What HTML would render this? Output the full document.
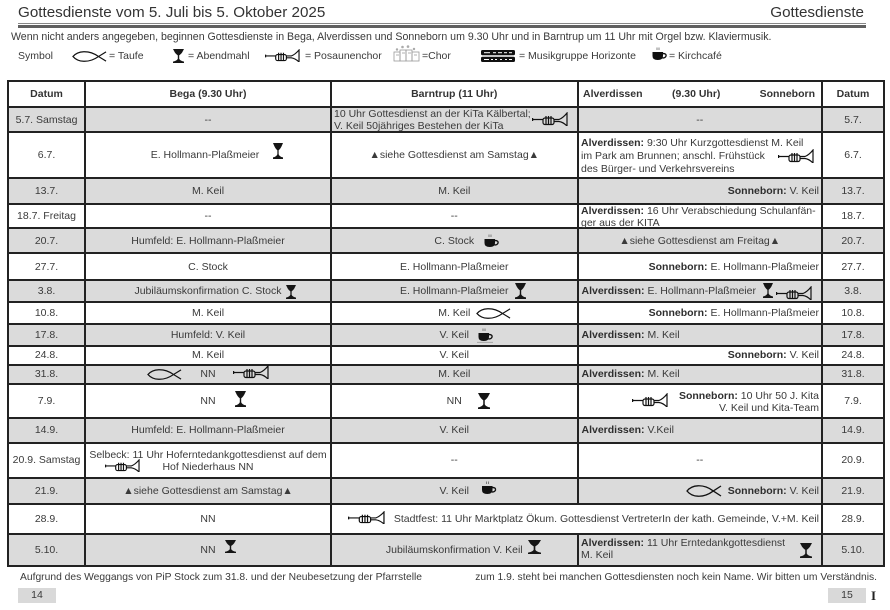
<!DOCTYPE html>
<html><head><meta charset="utf-8">
<style>
html,body{margin:0;padding:0;background:#fff}
body{width:890px;height:610px;position:relative;overflow:hidden;font-family:"Liberation Sans",Arial,sans-serif}
.t{position:absolute;white-space:nowrap;font-size:10.5px;color:#3a3a3a;line-height:13px}
.c{position:absolute;display:flex;align-items:center;justify-content:center;white-space:nowrap;font-size:10.5px;color:#3a3a3a;box-sizing:border-box}
.l{justify-content:flex-start;padding-left:3px}
.r{justify-content:flex-end;padding-right:2px}
.k1{left:8.5px;width:76px}
.k2{left:86px;width:244px}
.k3{left:332px;width:244.5px}
.k4{left:578.5px;width:242.5px}
.k5{left:823px;width:60px}
.bg{position:absolute;left:7.5px;width:876.5px;background:#dbdbdb}
.h{position:absolute;left:6.5px;width:878.5px;height:2px;background:#222}
.v{position:absolute;width:2px;background:#222}
.i{position:absolute}
b{color:#2e2e2e}
.hd{font-weight:bold;color:#333}
</style></head><body>

<!-- Title -->
<div class="t" style="left:18px;top:4px;font-size:15.2px;line-height:18px;color:#333">Gottesdienste vom 5. Juli bis 5. Oktober 2025</div>
<div class="t" style="right:26px;top:4px;font-size:15.2px;line-height:18px;color:#333">Gottesdienste</div>
<div style="position:absolute;left:18px;width:848px;top:23px;height:1px;background:#888"></div>
<div style="position:absolute;left:18px;width:848px;top:24.5px;height:3px;background:#606060"></div>

<div class="t" style="left:11px;top:30.5px;font-size:10.6px">Wenn nicht anders angegeben, beginnen Gottesdienste in Bega, Alverdissen und Sonneborn um 9.30 Uhr und in Barntrup um 11 Uhr mit Orgel bzw. Klaviermusik.</div>

<!-- Legend -->
<div class="t" style="left:18px;top:49.5px">Symbol</div>
<svg class="i" style="left:72px;top:51px" width="35" height="11" viewBox="0 0 36 12" preserveAspectRatio="none"><path d="M35 1L27 6.2Q20 11.5 12 11.2Q5 11 1 6Q5 1 12 0.8Q20 0.5 27 5.8L35 11" fill="none" stroke="#111" stroke-width="1.3"/></svg>
<div class="t" style="left:109px;top:49.5px">= Taufe</div>
<svg class="i" style="left:173px;top:49px" width="11" height="14" viewBox="0 0 11 15" preserveAspectRatio="none"><path d="M0 0H11L10 2C9 4.5 7.3 6 6.2 6.8V10.5C6.8 12 8.5 13 11 13.5V15H0V13.5C2.5 13 4.2 12 4.8 10.5V6.8C3.7 6 2 4.5 1 2Z" fill="#151515"/></svg>
<div class="t" style="left:188px;top:49.5px">= Abendmahl</div>
<svg class="i" style="left:265px;top:49px" width="35" height="13" viewBox="0 0 36 14" preserveAspectRatio="none"><g fill="none" stroke="#111" stroke-width="1.2"><path d="M0.6 6V9M0.6 7.5H11"/><rect x="11" y="6" width="11" height="6.5" rx="2"/><path d="M14 4V12.5M16.5 4V12.5M19 4V12.5"/><path d="M22 7.5H27Q31 6 35 1V14Q31 10 27 9.5H22"/></g></svg>
<div class="t" style="left:305px;top:49.5px">= Posaunenchor</div>
<svg class="i" style="left:393px;top:45px" width="28" height="18" viewBox="0 0 28 18"><g fill="none" stroke="#999" stroke-width="0.8"><rect x="1" y="7" width="6" height="9"/><rect x="7" y="5" width="6" height="11"/><rect x="13" y="5" width="6" height="11"/><rect x="19" y="7" width="7" height="9"/><path d="M3 10H6M9 8H12M15 8H18M21 10H24"/></g><g fill="#aaa"><circle cx="4" cy="4.5" r="1.2"/><circle cx="9.5" cy="2" r="1.3"/><circle cx="15" cy="1.6" r="1.3"/><circle cx="21" cy="4" r="1.2"/></g></svg>
<div class="t" style="left:422px;top:49.5px">=Chor</div>
<svg class="i" style="left:481px;top:50px" width="34" height="12" viewBox="0 0 34 12"><rect x="0" y="0" width="34" height="5.3" rx="1.5" fill="#111"/><rect x="0" y="6.7" width="34" height="5.3" rx="1.5" fill="#111"/><g fill="#fff"><rect x="3" y="2.2" width="6" height="1"/><rect x="12" y="2.2" width="3" height="1"/><rect x="17" y="2.2" width="4" height="1"/><rect x="23" y="2.2" width="3" height="1"/><rect x="28" y="2.2" width="3" height="1"/><rect x="3" y="9" width="5" height="1"/><rect x="10" y="9" width="2" height="1"/><rect x="14" y="9" width="2" height="1"/><rect x="19" y="9" width="2" height="1"/><rect x="24" y="9" width="2" height="1"/><rect x="28" y="9" width="3" height="1"/></g></svg>
<div class="t" style="left:519px;top:49.5px">= Musikgruppe Horizonte</div>
<svg class="i" style="left:651px;top:47px" width="16" height="15" viewBox="0 0 16 15"><path d="M6 0.5V3M8 0.5V3" stroke="#666" stroke-width="0.8"/><path d="M1.5 5H12V9Q12 13 6.8 13Q1.5 13 1.5 9Z" fill="#111"/><path d="M12 6.5Q15.5 6.5 15 9Q14.5 11 11.5 11" fill="none" stroke="#111" stroke-width="1.4"/></svg>
<div class="t" style="left:669px;top:49.5px">= Kirchcafé</div>

<!-- Row backgrounds -->
<div class="bg" style="top:107px;height:25px"></div>
<div class="bg" style="top:178px;height:26px"></div>
<div class="bg" style="top:228px;height:25px"></div>
<div class="bg" style="top:280px;height:21.5px"></div>
<div class="bg" style="top:324px;height:21.5px"></div>
<div class="bg" style="top:364.5px;height:19.5px"></div>
<div class="bg" style="top:417.5px;height:25.5px"></div>
<div class="bg" style="top:477.5px;height:26.5px"></div>
<div class="bg" style="top:533.5px;height:32.5px"></div>

<!-- Horizontal lines -->
<div class="h" style="top:80px"></div>
<div class="h" style="top:106px"></div>
<div class="h" style="top:131px"></div>
<div class="h" style="top:177px"></div>
<div class="h" style="top:203px"></div>
<div class="h" style="top:227px"></div>
<div class="h" style="top:252px"></div>
<div class="h" style="top:279px"></div>
<div class="h" style="top:300.5px"></div>
<div class="h" style="top:323px"></div>
<div class="h" style="top:344.5px"></div>
<div class="h" style="top:363.5px"></div>
<div class="h" style="top:383px"></div>
<div class="h" style="top:416.5px"></div>
<div class="h" style="top:442px"></div>
<div class="h" style="top:476.5px"></div>
<div class="h" style="top:503px"></div>
<div class="h" style="top:532.5px"></div>
<div class="h" style="top:565px"></div>

<!-- Vertical lines -->
<div class="v" style="left:6.5px;top:80px;height:487px"></div>
<div class="v" style="left:84px;top:80px;height:487px"></div>
<div class="v" style="left:330px;top:80px;height:487px"></div>
<div class="v" style="left:576.5px;top:80px;height:424px"></div>
<div class="v" style="left:576.5px;top:532.5px;height:34px"></div>
<div class="v" style="left:821px;top:80px;height:487px"></div>
<div class="v" style="left:883px;top:80px;height:487px"></div>

<!-- Header -->
<div class="c k1 hd" style="top:82px;height:24px">Datum</div>
<div class="c k2 hd" style="top:82px;height:24px">Bega (9.30 Uhr)</div>
<div class="c k3 hd" style="top:82px;height:24px">Barntrup (11 Uhr)</div>
<div class="t hd" style="left:583px;top:87.5px">Alverdissen</div>
<div class="t hd" style="left:672px;top:87.5px">(9.30 Uhr)</div>
<div class="t hd" style="right:75px;top:87.5px">Sonneborn</div>
<div class="c k5 hd" style="top:82px;height:24px">Datum</div>

<!-- 5.7. -->
<div class="c k1" style="top:108px;height:23px">5.7. Samstag</div>
<div class="c k2" style="top:108px;height:23px">--</div>
<div class="t" style="left:334px;top:109px;line-height:11.5px">10 Uhr Gottesdienst an der KiTa Kälbertal;<br>V. Keil 50jähriges Bestehen der KiTa</div>
<svg class="i" style="left:532px;top:112px" width="36" height="14" viewBox="0 0 36 14" preserveAspectRatio="none"><g fill="none" stroke="#111" stroke-width="1.2"><path d="M0.6 6V9M0.6 7.5H11"/><rect x="11" y="6" width="11" height="6.5" rx="2"/><path d="M14 4V12.5M16.5 4V12.5M19 4V12.5"/><path d="M22 7.5H27Q31 6 35 1V14Q31 10 27 9.5H22"/></g></svg>
<div class="c k4" style="top:108px;height:23px">--</div>
<div class="c k5" style="top:108px;height:23px">5.7.</div>

<!-- 6.7. -->
<div class="c k1" style="top:133px;height:44px">6.7.</div>
<div class="c k2" style="top:133px;height:44px;padding-left:0;padding-right:6px">E. Hollmann-Plaßmeier</div>
<svg class="i" style="left:273px;top:143px" width="10" height="16" viewBox="0 0 11 15" preserveAspectRatio="none"><path d="M0 0H11L10 2C9 4.5 7.3 6 6.2 6.8V10.5C6.8 12 8.5 13 11 13.5V15H0V13.5C2.5 13 4.2 12 4.8 10.5V6.8C3.7 6 2 4.5 1 2Z" fill="#151515"/></svg>
<div class="c k3" style="top:133px;height:44px">▲siehe Gottesdienst am Samstag▲</div>
<div class="t" style="left:581px;top:136.8px;line-height:13px"><b>Alverdissen:</b> 9:30 Uhr Kurzgottesdienst M. Keil<br>im Park am Brunnen; anschl. Frühstück<br>des Bürger- und Verkehrsvereins</div>
<svg class="i" style="left:778px;top:149px" width="36" height="14" viewBox="0 0 36 14" preserveAspectRatio="none"><g fill="none" stroke="#111" stroke-width="1.2"><path d="M0.6 6V9M0.6 7.5H11"/><rect x="11" y="6" width="11" height="6.5" rx="2"/><path d="M14 4V12.5M16.5 4V12.5M19 4V12.5"/><path d="M22 7.5H27Q31 6 35 1V14Q31 10 27 9.5H22"/></g></svg>
<div class="c k5" style="top:133px;height:44px">6.7.</div>

<!-- 13.7. -->
<div class="c k1" style="top:179px;height:24px">13.7.</div>
<div class="c k2" style="top:179px;height:24px">M. Keil</div>
<div class="c k3" style="top:179px;height:24px">M. Keil</div>
<div class="c k4 r" style="top:179px;height:24px"><b>Sonneborn:</b>&nbsp;V. Keil</div>
<div class="c k5" style="top:179px;height:24px">13.7.</div>

<!-- 18.7. -->
<div class="c k1" style="top:205px;height:22px">18.7. Freitag</div>
<div class="c k2" style="top:205px;height:22px">--</div>
<div class="c k3" style="top:205px;height:22px">--</div>
<div class="t" style="left:581px;top:204.5px;line-height:12px"><b>Alverdissen:</b> 16 Uhr Verabschiedung Schulanfän-<br>ger aus der KITA</div>
<div class="c k5" style="top:205px;height:22px">18.7.</div>

<!-- 20.7. -->
<div class="c k1" style="top:229px;height:23px">20.7.</div>
<div class="c k2" style="top:229px;height:23px">Humfeld: E. Hollmann-Plaßmeier</div>
<div class="c k3" style="top:229px;height:23px">C. Stock</div>
<svg class="i" style="left:483px;top:234px" width="16" height="15" viewBox="0 0 16 15"><path d="M6 0.5V3M8 0.5V3" stroke="#666" stroke-width="0.8"/><path d="M1.5 5H12V9Q12 13 6.8 13Q1.5 13 1.5 9Z" fill="#111"/><path d="M12 6.5Q15.5 6.5 15 9Q14.5 11 11.5 11" fill="none" stroke="#111" stroke-width="1.4"/></svg>
<div class="c k4" style="top:229px;height:23px">▲siehe Gottesdienst am Freitag▲</div>
<div class="c k5" style="top:229px;height:23px">20.7.</div>

<!-- 27.7. -->
<div class="c k1" style="top:254px;height:25px">27.7.</div>
<div class="c k2" style="top:254px;height:25px">C. Stock</div>
<div class="c k3" style="top:254px;height:25px">E. Hollmann-Plaßmeier</div>
<div class="c k4 r" style="top:254px;height:25px"><b>Sonneborn:</b>&nbsp;E. Hollmann-Plaßmeier</div>
<div class="c k5" style="top:254px;height:25px">27.7.</div>

<!-- 3.8. -->
<div class="c k1" style="top:281px;height:19.5px">3.8.</div>
<div class="c k2" style="top:281px;height:19.5px">Jubiläumskonfirmation C. Stock</div>
<svg class="i" style="left:286px;top:285px" width="10" height="14" viewBox="0 0 11 15" preserveAspectRatio="none"><path d="M0 0H11L10 2C9 4.5 7.3 6 6.2 6.8V10.5C6.8 12 8.5 13 11 13.5V15H0V13.5C2.5 13 4.2 12 4.8 10.5V6.8C3.7 6 2 4.5 1 2Z" fill="#151515"/></svg>
<div class="c k3" style="top:281px;height:19.5px">E. Hollmann-Plaßmeier</div>
<svg class="i" style="left:515px;top:283px" width="11" height="16" viewBox="0 0 11 15" preserveAspectRatio="none"><path d="M0 0H11L10 2C9 4.5 7.3 6 6.2 6.8V10.5C6.8 12 8.5 13 11 13.5V15H0V13.5C2.5 13 4.2 12 4.8 10.5V6.8C3.7 6 2 4.5 1 2Z" fill="#151515"/></svg>
<div class="c k4 l" style="top:281px;height:19.5px"><b>Alverdissen:</b>&nbsp;E. Hollmann-Plaßmeier</div>
<svg class="i" style="left:763px;top:283px" width="10" height="15" viewBox="0 0 11 15" preserveAspectRatio="none"><path d="M0 0H11L10 2C9 4.5 7.3 6 6.2 6.8V10.5C6.8 12 8.5 13 11 13.5V15H0V13.5C2.5 13 4.2 12 4.8 10.5V6.8C3.7 6 2 4.5 1 2Z" fill="#151515"/></svg>
<svg class="i" style="left:776px;top:286px" width="36" height="14" viewBox="0 0 36 14" preserveAspectRatio="none"><g fill="none" stroke="#111" stroke-width="1.2"><path d="M0.6 6V9M0.6 7.5H11"/><rect x="11" y="6" width="11" height="6.5" rx="2"/><path d="M14 4V12.5M16.5 4V12.5M19 4V12.5"/><path d="M22 7.5H27Q31 6 35 1V14Q31 10 27 9.5H22"/></g></svg>
<div class="c k5" style="top:281px;height:19.5px">3.8.</div>

<!-- 10.8. -->
<div class="c k1" style="top:302.5px;height:20.5px">10.8.</div>
<div class="c k2" style="top:302.5px;height:20.5px">M. Keil</div>
<div class="c k3" style="top:302.5px;height:20.5px">M. Keil</div>
<svg class="i" style="left:476px;top:308px" width="35" height="11" viewBox="0 0 36 12" preserveAspectRatio="none"><path d="M35 1L27 6.2Q20 11.5 12 11.2Q5 11 1 6Q5 1 12 0.8Q20 0.5 27 5.8L35 11" fill="none" stroke="#111" stroke-width="1.3"/></svg>
<div class="c k4 r" style="top:302.5px;height:20.5px"><b>Sonneborn:</b>&nbsp;E. Hollmann-Plaßmeier</div>
<div class="c k5" style="top:302.5px;height:20.5px">10.8.</div>

<!-- 17.8. -->
<div class="c k1" style="top:325px;height:19.5px">17.8.</div>
<div class="c k2" style="top:325px;height:19.5px">Humfeld: V. Keil</div>
<div class="c k3" style="top:325px;height:19.5px">V. Keil</div>
<svg class="i" style="left:477px;top:328px" width="16" height="15" viewBox="0 0 16 15"><path d="M6 0.5V3M8 0.5V3" stroke="#666" stroke-width="0.8"/><path d="M1.5 5H12V9Q12 13 6.8 13Q1.5 13 1.5 9Z" fill="#111"/><path d="M12 6.5Q15.5 6.5 15 9Q14.5 11 11.5 11" fill="none" stroke="#111" stroke-width="1.4"/><path d="M0 14.3H16" stroke="#999" stroke-width="0.8"/></svg>
<div class="c k4 l" style="top:325px;height:19.5px"><b>Alverdissen:</b>&nbsp;M. Keil</div>
<div class="c k5" style="top:325px;height:19.5px">17.8.</div>

<!-- 24.8. -->
<div class="c k1" style="top:346.5px;height:17px">24.8.</div>
<div class="c k2" style="top:346.5px;height:17px">M. Keil</div>
<div class="c k3" style="top:346.5px;height:17px">V. Keil</div>
<div class="c k4 r" style="top:346.5px;height:17px"><b>Sonneborn:</b>&nbsp;V. Keil</div>
<div class="c k5" style="top:346.5px;height:17px">24.8.</div>

<!-- 31.8. -->
<div class="c k1" style="top:365.5px;height:17.5px">31.8.</div>
<svg class="i" style="left:147px;top:369px" width="35" height="11" viewBox="0 0 36 12" preserveAspectRatio="none"><path d="M35 1L27 6.2Q20 11.5 12 11.2Q5 11 1 6Q5 1 12 0.8Q20 0.5 27 5.8L35 11" fill="none" stroke="#111" stroke-width="1.3"/></svg>
<div class="c k2" style="top:365.5px;height:17.5px">NN</div>
<svg class="i" style="left:233px;top:365px" width="36" height="14" viewBox="0 0 36 14" preserveAspectRatio="none"><g fill="none" stroke="#111" stroke-width="1.2"><path d="M0.6 6V9M0.6 7.5H11"/><rect x="11" y="6" width="11" height="6.5" rx="2"/><path d="M14 4V12.5M16.5 4V12.5M19 4V12.5"/><path d="M22 7.5H27Q31 6 35 1V14Q31 10 27 9.5H22"/></g></svg>
<div class="c k3" style="top:365.5px;height:17.5px">M. Keil</div>
<div class="c k4 l" style="top:365.5px;height:17.5px"><b>Alverdissen:</b>&nbsp;M. Keil</div>
<div class="c k5" style="top:365.5px;height:17.5px">31.8.</div>

<!-- 7.9. -->
<div class="c k1" style="top:385px;height:31.5px">7.9.</div>
<div class="c k2" style="top:385px;height:31.5px">NN</div>
<svg class="i" style="left:235px;top:391px" width="11" height="16" viewBox="0 0 11 15" preserveAspectRatio="none"><path d="M0 0H11L10 2C9 4.5 7.3 6 6.2 6.8V10.5C6.8 12 8.5 13 11 13.5V15H0V13.5C2.5 13 4.2 12 4.8 10.5V6.8C3.7 6 2 4.5 1 2Z" fill="#151515"/></svg>
<div class="c k3" style="top:385px;height:31.5px">NN</div>
<svg class="i" style="left:478px;top:393px" width="12" height="16" viewBox="0 0 11 15" preserveAspectRatio="none"><path d="M0 0H11L10 2C9 4.5 7.3 6 6.2 6.8V10.5C6.8 12 8.5 13 11 13.5V15H0V13.5C2.5 13 4.2 12 4.8 10.5V6.8C3.7 6 2 4.5 1 2Z" fill="#151515"/></svg>
<svg class="i" style="left:632px;top:393px" width="36" height="14" viewBox="0 0 36 14" preserveAspectRatio="none"><g fill="none" stroke="#111" stroke-width="1.2"><path d="M0.6 6V9M0.6 7.5H11"/><rect x="11" y="6" width="11" height="6.5" rx="2"/><path d="M14 4V12.5M16.5 4V12.5M19 4V12.5"/><path d="M22 7.5H27Q31 6 35 1V14Q31 10 27 9.5H22"/></g></svg>
<div class="t" style="right:71px;top:389.5px;line-height:12px;text-align:right"><b>Sonneborn:</b> 10 Uhr 50 J. Kita<br>V. Keil und Kita-Team</div>
<div class="c k5" style="top:385px;height:31.5px">7.9.</div>

<!-- 14.9. -->
<div class="c k1" style="top:418.5px;height:23.5px">14.9.</div>
<div class="c k2" style="top:418.5px;height:23.5px">Humfeld: E. Hollmann-Plaßmeier</div>
<div class="c k3" style="top:418.5px;height:23.5px">V. Keil</div>
<div class="c k4 l" style="top:418.5px;height:23.5px"><b>Alverdissen:</b>&nbsp;V.Keil</div>
<div class="c k5" style="top:418.5px;height:23.5px">14.9.</div>

<!-- 20.9. -->
<div class="c k1" style="top:444px;height:32.5px">20.9. Samstag</div>
<div class="t" style="left:86px;width:244px;top:448.8px;line-height:12.3px;text-align:center">Selbeck: 11 Uhr Hoferntedankgottesdienst auf dem<br>Hof Niederhaus NN</div>
<svg class="i" style="left:105px;top:459px" width="35" height="13" viewBox="0 0 36 14" preserveAspectRatio="none"><g fill="none" stroke="#111" stroke-width="1.2"><path d="M0.6 6V9M0.6 7.5H11"/><rect x="11" y="6" width="11" height="6.5" rx="2"/><path d="M14 4V12.5M16.5 4V12.5M19 4V12.5"/><path d="M22 7.5H27Q31 6 35 1V14Q31 10 27 9.5H22"/></g></svg>
<div class="c k3" style="top:444px;height:32.5px">--</div>
<div class="c k4" style="top:444px;height:32.5px">--</div>
<div class="c k5" style="top:444px;height:32.5px">20.9.</div>

<!-- 21.9. -->
<div class="c k1" style="top:478.5px;height:24.5px">21.9.</div>
<div class="c k2" style="top:478.5px;height:24.5px">▲siehe Gottesdienst am Samstag▲</div>
<div class="c k3" style="top:478.5px;height:24.5px">V. Keil</div>
<svg class="i" style="left:480px;top:481px" width="17" height="15" viewBox="0 0 16 15"><path d="M6 0.5V3M8 0.5V3" stroke="#666" stroke-width="0.8"/><path d="M1.5 5H12V9Q12 13 6.8 13Q1.5 13 1.5 9Z" fill="#111"/><path d="M12 6.5Q15.5 6.5 15 9Q14.5 11 11.5 11" fill="none" stroke="#111" stroke-width="1.4"/></svg>
<svg class="i" style="left:686px;top:485px" width="36" height="12" viewBox="0 0 36 12" preserveAspectRatio="none"><path d="M35 1L27 6.2Q20 11.5 12 11.2Q5 11 1 6Q5 1 12 0.8Q20 0.5 27 5.8L35 11" fill="none" stroke="#111" stroke-width="1.3"/></svg>
<div class="c k4 r" style="top:478.5px;height:24.5px"><b>Sonneborn:</b>&nbsp;V. Keil</div>
<div class="c k5" style="top:478.5px;height:24.5px">21.9.</div>

<!-- 28.9. -->
<div class="c k1" style="top:505px;height:27.5px">28.9.</div>
<div class="c k2" style="top:505px;height:27.5px">NN</div>
<svg class="i" style="left:348px;top:511px" width="37" height="13" viewBox="0 0 36 14" preserveAspectRatio="none"><g fill="none" stroke="#111" stroke-width="1.2"><path d="M0.6 6V9M0.6 7.5H11"/><rect x="11" y="6" width="11" height="6.5" rx="2"/><path d="M14 4V12.5M16.5 4V12.5M19 4V12.5"/><path d="M22 7.5H27Q31 6 35 1V14Q31 10 27 9.5H22"/></g></svg>
<div class="c r" style="left:332px;width:489px;top:505px;height:27.5px">Stadtfest: 11 Uhr Marktplatz Ökum. Gottesdienst VertreterIn der kath. Gemeinde, V.+M. Keil</div>
<div class="c k5" style="top:505px;height:27.5px">28.9.</div>

<!-- 5.10. -->
<div class="c k1" style="top:534.5px;height:30.5px">5.10.</div>
<div class="c k2" style="top:534.5px;height:30.5px">NN</div>
<svg class="i" style="left:225px;top:540px" width="11" height="13" viewBox="0 0 11 15" preserveAspectRatio="none"><path d="M0 0H11L10 2C9 4.5 7.3 6 6.2 6.8V10.5C6.8 12 8.5 13 11 13.5V15H0V13.5C2.5 13 4.2 12 4.8 10.5V6.8C3.7 6 2 4.5 1 2Z" fill="#151515"/></svg>
<div class="c k3" style="top:534.5px;height:30.5px">Jubiläumskonfirmation V. Keil</div>
<svg class="i" style="left:528px;top:540px" width="13" height="14" viewBox="0 0 11 15" preserveAspectRatio="none"><path d="M0 0H11L10 2C9 4.5 7.3 6 6.2 6.8V10.5C6.8 12 8.5 13 11 13.5V15H0V13.5C2.5 13 4.2 12 4.8 10.5V6.8C3.7 6 2 4.5 1 2Z" fill="#151515"/></svg>
<div class="t" style="left:581px;top:537px;line-height:12.4px"><b>Alverdissen:</b> 11 Uhr Erntedankgottesdienst<br>M. Keil</div>
<svg class="i" style="left:800px;top:543px" width="12" height="15" viewBox="0 0 11 15" preserveAspectRatio="none"><path d="M0 0H11L10 2C9 4.5 7.3 6 6.2 6.8V10.5C6.8 12 8.5 13 11 13.5V15H0V13.5C2.5 13 4.2 12 4.8 10.5V6.8C3.7 6 2 4.5 1 2Z" fill="#151515"/></svg>
<div class="c k5" style="top:534.5px;height:30.5px">5.10.</div>

<!-- Footer -->
<div class="t" style="left:20px;top:570.5px;font-size:10.3px">Aufgrund des Weggangs von PiP Stock zum 31.8. und der Neubesetzung der Pfarrstelle</div>
<div class="t" style="right:13px;top:570.5px;font-size:10.3px">zum 1.9. steht bei manchen Gottesdiensten noch kein Name. Wir bitten um Verständnis.</div>
<div style="position:absolute;left:18px;top:588px;width:38px;height:15px;background:#d9d9d9"></div>
<div class="t" style="left:18px;width:38px;top:589px;text-align:center">14</div>
<div style="position:absolute;left:828px;top:588px;width:38px;height:15px;background:#d9d9d9"></div>
<div class="t" style="left:828px;width:38px;top:589px;text-align:center">15</div>
<div class="t" style="left:871px;top:589px;font-family:'Liberation Serif',serif;font-weight:bold;font-size:13px;color:#222">I</div>

</body></html>
